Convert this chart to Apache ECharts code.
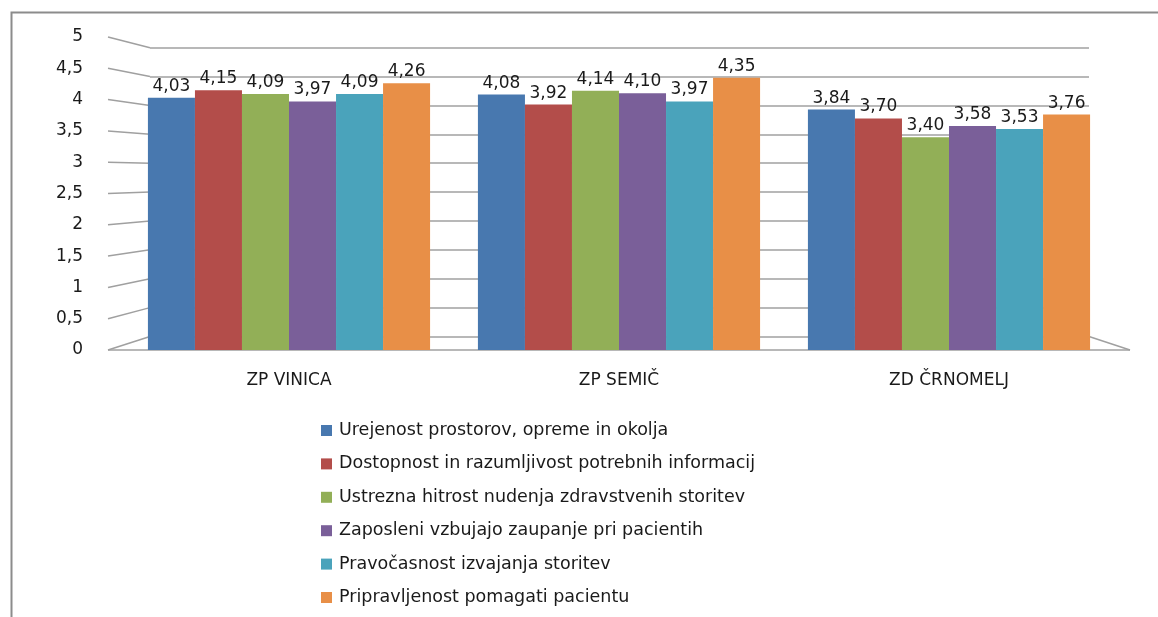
<!DOCTYPE html>
<html>
<head>
<meta charset="utf-8">
<script src="https://cdn.jsdelivr.net/npm/echarts@6/dist/echarts.min.js"></script>
<style>
html,body{margin:0;padding:0;background:#fff;}
#chart{width:1158px;height:617px;}
</style>
</head>
<body>
<div id="chart"></div>
<script>
// ---- data ----
const categories = ['ZP VINICA', 'ZP SEMIČ', 'ZD ČRNOMELJ'];
const seriesNames = [
  'Urejenost prostorov, opreme in okolja',
  'Dostopnost in razumljivost potrebnih informacij',
  'Ustrezna hitrost nudenja zdravstvenih storitev',
  'Zaposleni vzbujajo zaupanje pri pacientih',
  'Pravočasnost izvajanja storitev',
  'Pripravljenost pomagati pacientu'
];
const urejenost = [4.03, 4.08, 3.84];
const dostopnost = [4.15, 3.92, 3.70];
const hitrost = [4.09, 4.14, 3.40];
const zaupanje = [3.97, 4.10, 3.58];
const pravocasnost = [4.09, 3.97, 3.53];
const pripravljenost = [4.26, 4.35, 3.76];
const yTicks = [0, 0.5, 1, 1.5, 2, 2.5, 3, 3.5, 4, 4.5, 5];

// ---- styling / layout ----
const colors = ['#4878af', '#b34d4a', '#92af57', '#7a5f99', '#4aa3bb', '#e88f47'];
const FONT = 'DejaVu Sans';
const FRONT_TOP = 37, FRONT_H = 313;       // front (bar) plane
const BACK_LEFT = 150, BACK_RIGHT = 1089, BACK_TOP = 47.7, BACK_BOTTOM = 336.5;
const LABEL_X = 108, FLOOR_RIGHT = 1130;

const values = [urejenost, dostopnost, hitrost, zaupanje, pravocasnost, pripravljenost];
const fmt = v => v.toFixed(2).replace('.', ',');

const chart = echarts.init(document.getElementById('chart'), null, {renderer: 'canvas'});

const barSeries = values.map((arr, i) => ({
  name: seriesNames[i],
  type: 'bar',
  xAxisIndex: 0,
  yAxisIndex: 0,
  data: arr,
  barGap: '0%',
  barCategoryGap: '14.5%',
  z: 3,
  itemStyle: {color: colors[i]},
  label: {
    show: true,
    position: 'top',
    distance: 3,
    formatter: p => fmt(p.value),
    fontFamily: FONT,
    fontSize: 17,
    color: '#1a1a1a'
  },
  emphasis: {disabled: true}
}));

const wallSeries = {
  type: 'custom',
  xAxisIndex: 1,
  yAxisIndex: 1,
  silent: true,
  z: 1,
  data: yTicks.map(v => [0, v]),
  renderItem: function (params, api) {
    const v = api.value(1);
    const back = api.coord([0, v]);
    const yf = FRONT_TOP + (1 - v / 5) * FRONT_H;
    const style = {stroke: '#a0a0a0', lineWidth: 1.5};
    const children = [{
      type: 'line',
      shape: {x1: LABEL_X, y1: yf, x2: back[0], y2: back[1]},
      style: style
    }];
    if (v === 0) {
      const br = api.coord([1, 0]);
      children.push({
        type: 'line',
        shape: {x1: LABEL_X, y1: yf, x2: FLOOR_RIGHT, y2: yf},
        style: style
      });
      children.push({
        type: 'line',
        shape: {x1: br[0], y1: br[1], x2: FLOOR_RIGHT, y2: yf},
        style: style
      });
    }
    return {type: 'group', children: children};
  }
};

const option = {
  backgroundColor: '#ffffff',
  animation: false,
  graphic: [{
    type: 'rect',
    left: 9, top: 10,
    shape: {width: 1170, height: 640},
    style: {fill: 'none', stroke: '#8c8c8c', lineWidth: 2},
    silent: true,
    z: -1
  }],
  legend: {
    orient: 'vertical',
    left: 321,
    top: 421,
    padding: 0,
    itemWidth: 11,
    itemHeight: 11,
    itemGap: 14.4,
    icon: 'rect',
    selectedMode: false,
    data: seriesNames,
    textStyle: {fontFamily: FONT, fontSize: 17.5, color: '#1a1a1a', lineHeight: 19, padding: [0, 0, 0, 2]}
  },
  grid: [
    {left: 124, width: 990, top: FRONT_TOP, height: FRONT_H},
    {left: BACK_LEFT, width: BACK_RIGHT - BACK_LEFT, top: BACK_TOP, height: BACK_BOTTOM - BACK_TOP}
  ],
  xAxis: [
    {
      type: 'category', gridIndex: 0, data: categories,
      axisLine: {show: false}, axisTick: {show: false},
      axisLabel: {margin: 22, fontFamily: FONT, fontSize: 17, color: '#1a1a1a'}
    },
    {type: 'value', gridIndex: 1, min: 0, max: 1, show: false}
  ],
  yAxis: [
    {
      type: 'value', gridIndex: 0, min: 0, max: 5, interval: 0.5,
      axisLine: {show: false}, axisTick: {show: false}, splitLine: {show: false},
      axisLabel: {
        margin: 41, fontFamily: FONT, fontSize: 17, color: '#1a1a1a',
        formatter: v => String(v).replace('.', ',')
      }
    },
    {
      type: 'value', gridIndex: 1, min: 0, max: 5, interval: 0.5,
      axisLine: {show: false}, axisTick: {show: false}, axisLabel: {show: false},
      splitLine: {show: true, lineStyle: {color: '#a0a0a0', width: 1.5}}
    }
  ],
  series: barSeries.concat([wallSeries])
};

chart.setOption(option);
</script>
</body>
</html>
